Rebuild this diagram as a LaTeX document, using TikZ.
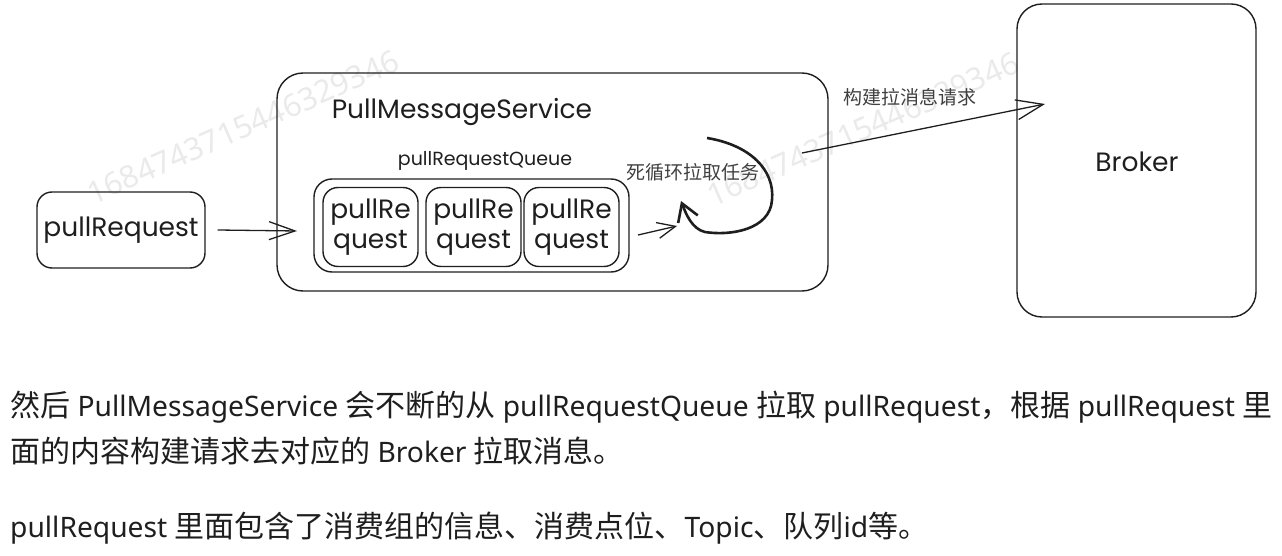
\documentclass[tikz,border=0pt]{standalone}
\usepackage{fontspec}
\setmainfont{Noto Sans}
\newfontfamily\cjk{Noto Sans CJK SC}
\newfontfamily\hand{Poppins}
\usetikzlibrary{arrows.meta}
\definecolor{ink}{HTML}{1E1E1E}
\definecolor{wmgray}{HTML}{EAEAEA}
\newcommand{\zh}[1]{{\cjk\fontsize{30}{36}\selectfont #1}}
\tikzset{>={Straight Barb[length=26pt,width=18pt]}}
\tikzset{
    box/.style={draw=ink, line width=1.4pt, rounded corners=15pt, inner sep=0pt},
    hand/.style={font=\hand\fontsize{26.5}{30}\selectfont, text=ink},
    link/.style={->, draw=ink, line width=1.3pt},
    note/.style={font=\cjk\fontsize{19}{22}\selectfont, text=ink!85},
    para/.style={anchor=base west, inner sep=0pt, font=\fontsize{28.2}{33}\selectfont, text=ink},
    wmark/.style={font=\fontsize{31}{31}\selectfont, text=wmgray, rotate=23.8},
}

\begin{document}
\begin{tikzpicture}[x=1pt, y=-1pt]
    \useasboundingbox (0,0) rectangle (1282,556);

    \node[wmark] (wm1) at (243,127) {1684743715446329346};
    \node[wmark] (wm2) at (863,129) {1684743715446329346};

    \node[box, minimum width=168pt, minimum height=76pt, hand] (req) at (121,230) {pullRequest};

    \node[box, rounded corners=26pt, minimum width=551pt, minimum height=218pt] (pms) at (552.5,182) {};
    \node[hand] (pmstitle) at (462,112) {PullMessageService};
    \node[hand, font=\hand\fontsize{19}{22}\selectfont] (qlabel) at (485,161) {pullRequestQueue};

    \node[box, rounded corners=18pt, minimum width=315pt, minimum height=93pt] (queue) at (471.5,225.5) {};
    \node[box, hand, align=center, minimum width=95pt, minimum height=79pt] (item1) at (370.5,227) {pullRe\\quest};
    \node[box, hand, align=center, minimum width=95pt, minimum height=79pt] (item2) at (473.5,227) {pullRe\\quest};
    \node[box, hand, align=center, minimum width=95pt, minimum height=79pt] (item3) at (571.5,227) {pullRe\\quest};

    \node[box, rounded corners=25pt, minimum width=239pt, minimum height=313pt] (broker) at (1136.5,160.5) {};
    \node[hand] (brokertext) at (1137,162) {Broker};

    \node[note] (loopl) at (693,172) {死循环拉取任务};
    \node[note] (sendl) at (910,97) {构建拉消息请求};

    \coordinate (pmsin) at (297,231);
    \coordinate (qout) at (638,235);
    \coordinate (loopin) at (677,226);
    \coordinate (loopa) at (707,138);
    \coordinate (loopb) at (681,201);
    \coordinate (loopout) at (802,153);
    \coordinate (brokerin) at (1045,104);

    \draw[link] ([xshift=12pt]req.east) -- (pmsin);
    \draw[link, >={Straight Barb[length=18pt,width=16pt]}] (qout) -- (loopin);
    \draw[link, line width=2.6pt, >={Straight Barb[length=17pt,width=21pt]}] (loopa) .. controls (750,145) and (775,170) .. (772,200) .. controls (770,230) and (730,236) .. (705,232) .. controls (692,229) and (686,214) .. (loopb);
    \draw[link, >={Straight Barb[length=27pt,width=20pt]}] (loopout) -- (brokerin);

    \node[para] (line1) at (10,416) {\zh{然后} PullMessageService \zh{会不断的从} pullRequestQueue \zh{拉取} pullRequest\zh{，根据} pullRequest \zh{里}};
    \node[para] (line2) at (10,462) {\zh{面的内容构建请求去对应的} Broker \zh{拉取消息。}};
    \node[para] (line3) at (10,537) {pullRequest \zh{里面包含了消费组的信息、消费点位、}Topic\zh{、队列}id\zh{等。}};

\end{tikzpicture}
\end{document}
